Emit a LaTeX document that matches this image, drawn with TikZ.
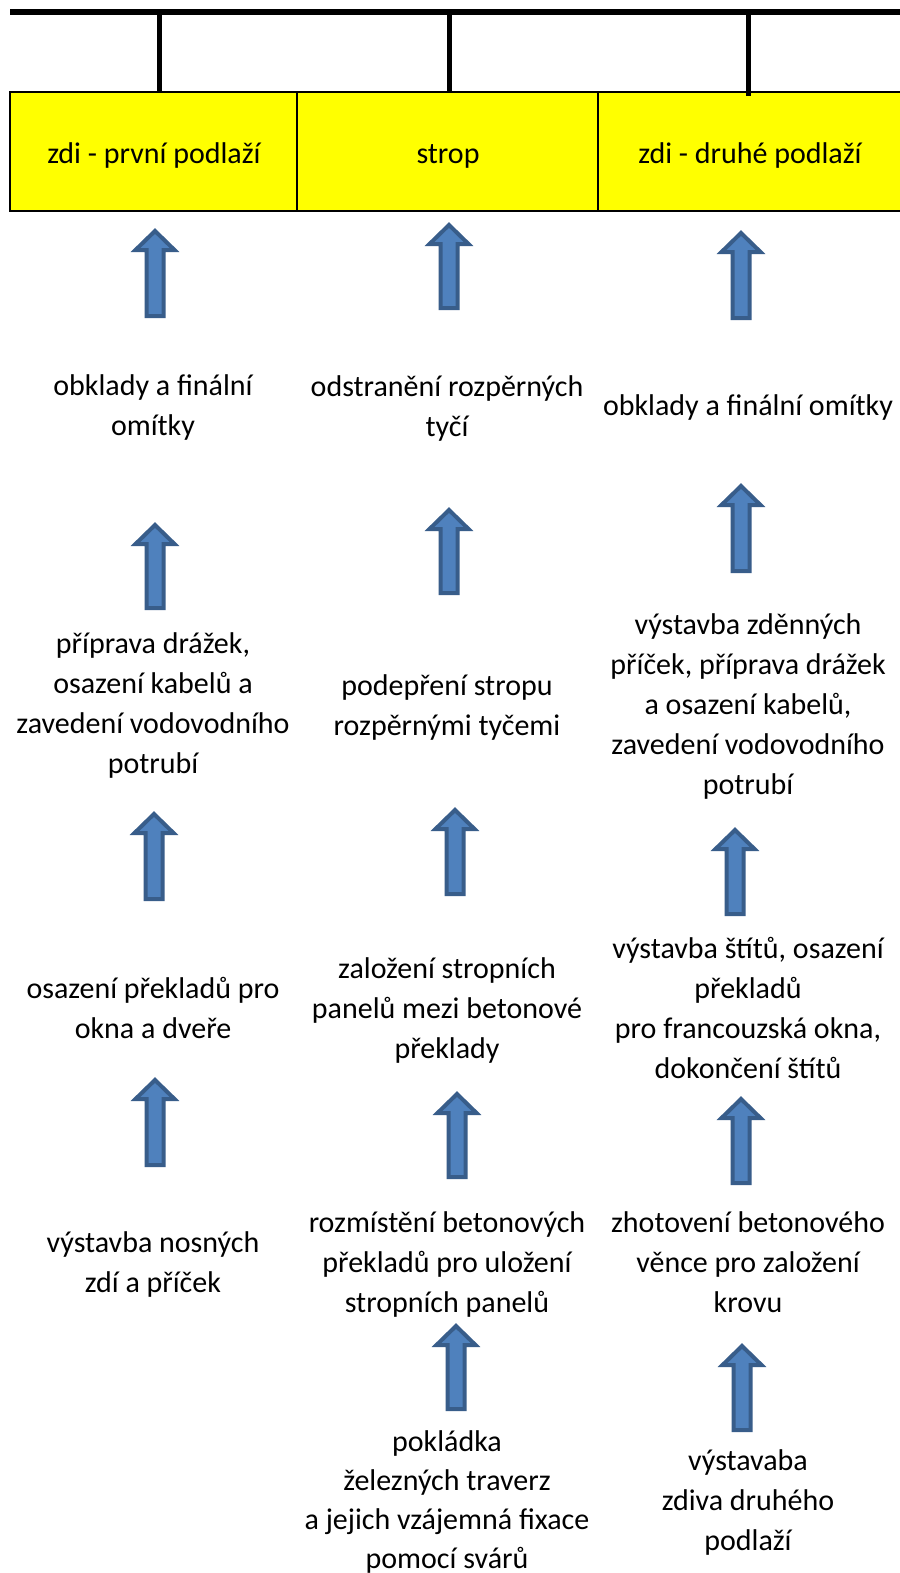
\documentclass[tikz,border=0pt]{standalone}
\usepackage{fontspec}
\setmainfont{Carlito}
\usepackage{tikz}
\usetikzlibrary{calc}
\usepackage{xcolor}

\definecolor{headyellow}{HTML}{FFFF00}
\definecolor{arrowfill}{HTML}{4F81BD}
\definecolor{arrowline}{HTML}{385D8A}

\tikzset{
  phase/.style={line width=2pt, fill=headyellow, minimum width=#1, minimum height=119pt, inner sep=0pt, outer sep=0pt},
  task/.style={align=center, inner sep=0pt},
  blockarrow/.style={draw=arrowline, fill=arrowfill, line width=4pt, line join=miter}
}

% block arrow: x, y of tip, y of tail
\newcommand{\blockup}[3]{
  \draw[blockarrow] (#1-8.5,#3-2) -- (#1-8.5,#2+22) -- (#1-19.5,#2+22) -- (#1,#2+3)
    -- (#1+19.5,#2+22) -- (#1+8.5,#2+22) -- (#1+8.5,#3-2) -- cycle;
}

\begin{document}
\begin{tikzpicture}[x=1pt, y=-1pt, font=\fontsize{30}{40}\selectfont]
  \useasboundingbox[fill=white] (0,0) rectangle (899,1573);

  % Nodes
  \node[phase=287pt, draw] (h1) at (153.5,151.5) {};
  \node[phase=301pt, draw] (h2) at (447.5,151.5) {};
  \node[phase=330pt] (h3) at (763,151.5) {};
  \draw[line width=2pt] (h3.north east) -- (h3.north west) -- (h3.south west) -- (h3.south east);
  \node[task] (l1) at (154,156) {zdi - první podlaží};
  \node[task] (l2) at (448,156) {strop};
  \node[task] (l3) at (750,156) {zdi - druhé podlaží};

  \coordinate (s) at (10,12);
  \coordinate (e) at (905,12);
  \coordinate (t1) at (159,12);
  \coordinate (t2) at (449,12);
  \coordinate (t3) at (748,12);

  \draw[line width=5.5pt] (s) -- (e);
  \draw[line width=5pt] (t1) -- (t1 |- h1.north);
  \draw[line width=5pt] (t2) -- (t2 |- h2.north);
  \draw[line width=5pt] ($(t3)+(0,-2)$) -- ($(t3 |- h3.north)+(0,4)$);

  % first floor walls
  \node[task] (a1) at (153,407) {obklady a finální\\omítky};
  \node[task] (a2) at (153,705) {příprava drážek,\\osazení kabelů a\\zavedení vodovodního\\potrubí};
  \node[task] (a3) at (153,1008) {osazení překladů pro\\okna a dveře};
  \node[task] (a4) at (153,1264) {výstavba nosných\\zdí a příček};

  % ceiling
  \node[task] (b1) at (447,408) {odstranění rozpěrných\\tyčí};
  \node[task] (b2) at (447,707) {podepření stropu\\rozpěrnými tyčemi};
  \node[task] (b3) at (447,1010) {založení stropních\\panelů mezi betonové\\překlady};
  \node[task] (b4) at (447,1264) {rozmístění betonových\\překladů pro uložení\\stropních panelů};
  \node[task, font=\fontsize{30}{39}\selectfont] (b5) at (447,1502) {pokládka\\železných traverz\\a jejich vzájemná fixace\\pomocí svárů};

  % second floor walls
  \node[task] (c1) at (748,407) {obklady a finální omítky};
  \node[task] (c2) at (748,706) {výstavba zděnných\\příček, příprava drážek\\a osazení kabelů,\\zavedení vodovodního\\potrubí};
  \node[task] (c3) at (748,1008) {výstavba štítů, osazení\\překladů\\pro francouzská okna,\\dokončení štítů};
  \node[task] (c4) at (748,1262) {zhotovení betonového\\věnce pro založení\\krovu};
  \node[task] (c5) at (748,1502) {výstavaba\\zdiva druhého\\podlaží};

  % arrows
  \blockup{155}{228}{318}
  \blockup{155}{522}{610}
  \blockup{154}{811}{901}
  \blockup{155}{1077}{1167}

  \blockup{449}{222}{310}
  \blockup{449}{507}{595}
  \blockup{455}{807}{896}
  \blockup{457}{1091}{1179}
  \blockup{456}{1323}{1411}

  \blockup{741}{230}{320}
  \blockup{741}{483}{573}
  \blockup{735}{827}{916}
  \blockup{741}{1096}{1185}
  \blockup{742}{1343}{1432}
\end{tikzpicture}
\end{document}
